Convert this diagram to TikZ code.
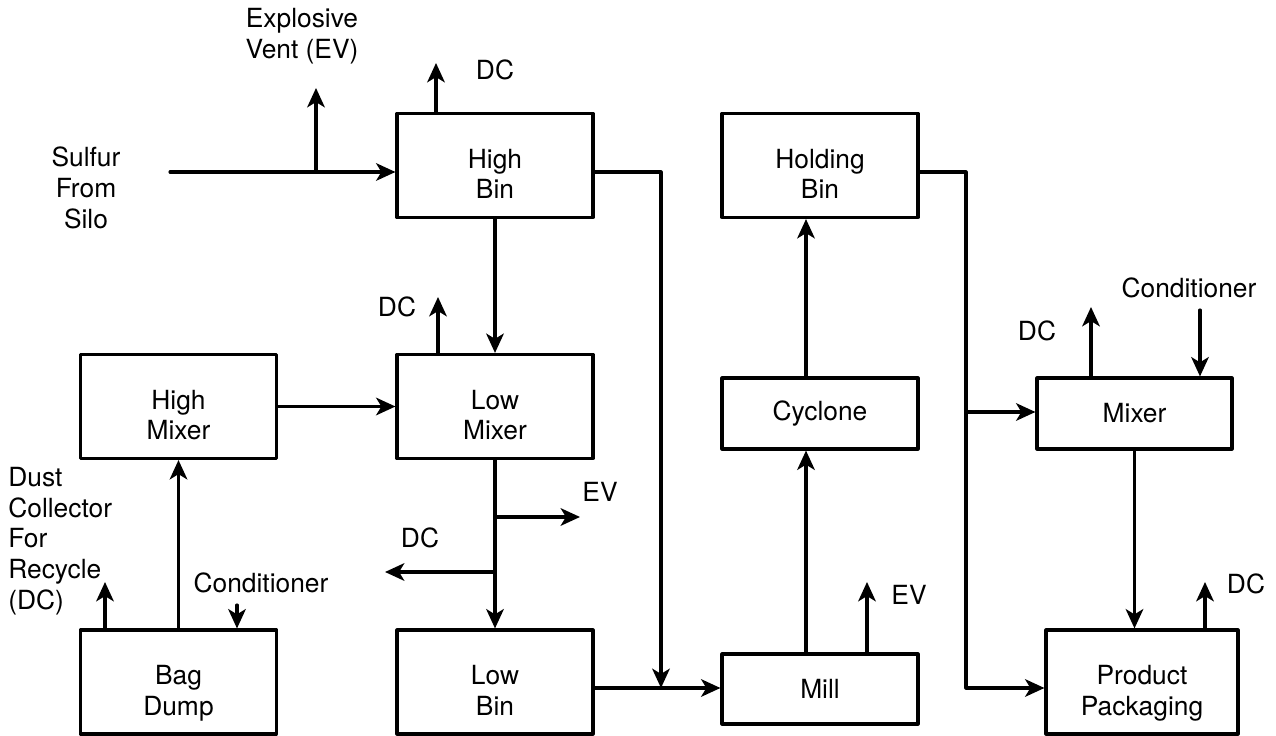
\documentclass[tikz,border=0pt]{standalone}
\usepackage{fontspec}
\setmainfont{TeX Gyre Heros}
\usetikzlibrary{arrows.meta,calc}

\begin{document}
\begin{tikzpicture}[x=0.02cm,y=-0.02cm,line cap=round,line join=round,
  every node/.style={font=\fontsize{15}{17.5}\selectfont},
  unit/.style={draw,line width=1.8pt,inner sep=0pt,align=center,minimum width=3.92cm},
  tall/.style={unit,minimum height=2.08cm,text height=38pt,text depth=0pt},
  flat/.style={unit,minimum height=1.42cm},
  flow/.style={line width=1.8pt,-{Stealth[length=11pt,width=10pt,inset=3pt]}},
  lbl/.style={align=center,inner sep=0pt}]
  \useasboundingbox (0,0) rectangle (1276,736);
  % process units
  \node[tall] (highbin) at (495,165.5) {High\\Bin};
  \node[tall] (holdbin) at (820,165.5) {Holding\\Bin};
  \node[tall] (highmix) at (178.5,406.5) {High\\Mixer};
  \node[tall] (lowmix) at (495,406.5) {Low\\Mixer};
  \node[flat] (cyclone) at (820,413.5) {Cyclone};
  \node[flat,minimum width=3.9cm] (mixer) at (1134.5,413.5) {Mixer};
  \node[tall] (bagdump) at (178.5,682) {Bag\\Dump};
  \node[tall] (lowbin) at (495,682) {Low\\Bin};
  \node[flat,minimum height=1.4cm] (mill) at (820,689) {Mill};
  \node[tall,minimum width=3.84cm] (packaging) at (1142,682) {Product\\Packaging};
  % free ends
  \coordinate (silo) at (170,172);
  \coordinate (hbev) at (316,88);
  \coordinate (hbdc) at (436,63);
  \coordinate (join) at (661,688);
  \coordinate (lmdc) at (438,297);
  \coordinate (lmev) at (580,517);
  \coordinate (lmdc2) at (385,572);
  \coordinate (bddc) at (105,582);
  \coordinate (bdcond) at (237,605);
  \coordinate (riser) at (806,0);
  \coordinate (millev) at (867,582);
  \coordinate (split) at (966,412);
  \coordinate (mxdc) at (1091,307);
  \coordinate (mxcond) at (1200,310);
  \coordinate (ppdc) at (1205,582);
  % labels
  \node[lbl] (sulfur) at (86,188) {Sulfur\\From\\Silo};
  \node[lbl] (evtxt) at (302,36) {Explosive\\Vent (EV)};
  \node[lbl] (hbdctxt) at (495,70) {DC};
  \node[lbl] (lmdctxt) at (397,307) {DC};
  \node[lbl] (lmevtxt) at (600,492) {EV};
  \node[lbl] (lmdc2txt) at (420,538) {DC};
  \node[lbl,align=left,anchor=west] (dusttxt) at (8,541) {Dust\\Collector\\For\\Recycle\\(DC)};
  \node[lbl] (bdcondtxt) at (261,583) {Conditioner};
  \node[lbl] (millevtxt) at (909,595) {EV};
  \node[lbl] (mxdctxt) at (1037,331) {DC};
  \node[lbl] (mxcondtxt) at (1189,288) {Conditioner};
  \node[lbl] (ppdctxt) at (1246,584) {DC};
  % connectors
  \draw[flow] (silo) -- (silo -| highbin.west);
  \draw[flow] (silo -| hbev) -- (hbev);
  \draw[flow] (hbdc |- highbin.north) -- (hbdc);
  \draw[flow] (highbin.east |- silo) -| (join);
  \draw[flow] (highbin) -- (lowmix);
  \draw[flow] (lmdc |- lowmix.north) -- (lmdc);
  \draw[flow] (highmix) -- (lowmix);
  \draw[flow] (lowmix) -- (lowbin);
  \draw[flow] (lowmix.south |- lmev) -- (lmev);
  \draw[flow] (lowmix.south |- lmdc2) -- (lmdc2);
  \draw[flow] (bagdump) -- (highmix);
  \draw[flow] (bddc |- bagdump.north) -- (bddc);
  \draw[flow] (bdcond) -- (bdcond |- bagdump.north);
  \draw[flow] (lowbin.east |- join) -- (mill.west |- join);
  \draw[flow] (riser |- mill.north) -- (riser |- cyclone.south);
  \draw[flow] (riser |- cyclone.north) -- (riser |- holdbin.south);
  \draw[flow] (millev |- mill.north) -- (millev);
  \draw[flow] (holdbin.east |- silo) -| (split) |- (packaging.west |- join);
  \draw[flow] (split) -- (split -| mixer.west);
  \draw[flow] (mxdc |- mixer.north) -- (mxdc);
  \draw[flow] (mxcond) -- (mxcond |- mixer.north);
  \draw[flow] (mixer.south) -- (mixer.south |- packaging.north);
  \draw[flow] (ppdc |- packaging.north) -- (ppdc);
\end{tikzpicture}
\end{document}
